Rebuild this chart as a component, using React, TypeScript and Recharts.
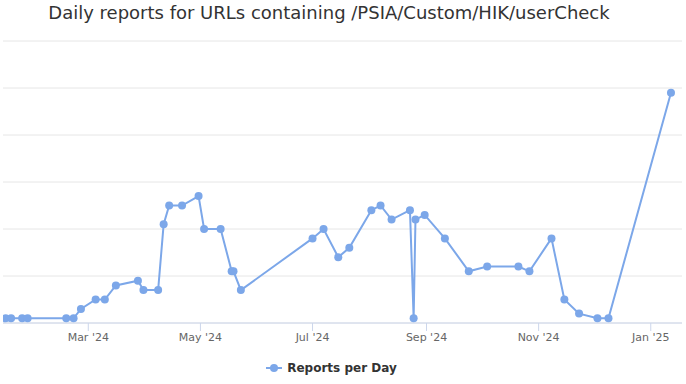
import { CartesianGrid, Legend, Line, LineChart, XAxis, YAxis } from 'recharts';

const reportDates = [
  '2024-01-16', '2024-01-19', '2024-01-25', '2024-01-28', '2024-02-18', '2024-02-22',
  '2024-02-26', '2024-03-05', '2024-03-10', '2024-03-16', '2024-03-28', '2024-03-31',
  '2024-04-08', '2024-04-11', '2024-04-14', '2024-04-21', '2024-04-30', '2024-05-03',
  '2024-05-12', '2024-05-18', '2024-05-19', '2024-05-23', '2024-07-01', '2024-07-07',
  '2024-07-15', '2024-07-21', '2024-08-02', '2024-08-07', '2024-08-13', '2024-08-23',
  '2024-08-25', '2024-08-26', '2024-08-31', '2024-09-11', '2024-09-24', '2024-10-04',
  '2024-10-21', '2024-10-27', '2024-11-08', '2024-11-15', '2024-11-23', '2024-12-03',
  '2024-12-09', '2025-01-12',
];
const reportsPerDay = [
  1, 1, 1, 1, 1, 1, 3, 5, 5, 8, 9, 7, 7, 21, 25, 25, 27, 20, 20, 11, 11, 7,
  18, 20, 14, 16, 24, 25, 22, 24, 1, 22, 23, 18, 11, 12, 12, 11, 18, 5, 2, 1, 1, 49,
];
const tickDates = ['2024-03-01', '2024-05-01', '2024-07-01', '2024-09-01', '2024-11-01', '2025-01-01'];
const tickLabels = ["Mar '24", "May '24", "Jul '24", "Sep '24", "Nov '24", "Jan '25"];
const yTicks = [0, 10, 20, 30, 40, 50, 60];

const DAY = 86400000;
const march1 = Date.parse('2024-03-01');
const xDomain = [march1 - 46.4 * DAY, march1 + 323 * DAY];

const data = reportDates.map((d, i) => ({ t: Date.parse(d), value: reportsPerDay[i] }));
const xTicks = tickDates.map((d) => Date.parse(d));

const color = '#7ca7e9';

function LegendContent() {
  return (
    <div style={{ display: 'flex', justifyContent: 'center', alignItems: 'center', height: 24, paddingRight: 24 }}>
      <svg width={20} height={12} style={{ marginRight: 3 }}>
        <line x1={2} y1={6} x2={18} y2={6} stroke={color} strokeWidth={2} />
        <circle cx={10} cy={6} r={4} fill={color} />
      </svg>
      <span style={{ fontFamily: 'DejaVu Sans', fontSize: 12, fontWeight: 'bold', color: '#333' }}>
        Reports per Day
      </span>
    </div>
  );
}

export default function App() {
  return (
    <div style={{ position: 'relative', width: 686, height: 384, background: '#fff' }}>
      <style>{'body{margin:0}'}</style>
      <div
        style={{
          position: 'absolute',
          top: 2,
          left: 0,
          width: 658,
          textAlign: 'center',
          fontFamily: 'DejaVu Sans',
          fontSize: 18,
          color: '#333',
        }}
      >
        Daily reports for URLs containing /PSIA/Custom/HIK/userCheck
      </div>
      <LineChart width={686} height={384} data={data} margin={{ top: 41, right: 4, bottom: 4, left: 3 }}>
        <CartesianGrid vertical={false} stroke="#e6e6e6" />
        <XAxis
          dataKey="t"
          type="number"
          scale="time"
          domain={xDomain}
          ticks={xTicks}
          tickFormatter={(v: number) => tickLabels[xTicks.indexOf(v)]}
          height={33}
          stroke="#ccd6eb"
          tickSize={8}
          tickMargin={2}
          tick={{ fill: '#666', fontSize: 11, fontFamily: 'DejaVu Sans' }}
          allowDataOverflow
        />
        <YAxis hide domain={[0, 60]} ticks={yTicks} />
        <Legend verticalAlign="bottom" height={24} content={<LegendContent />} />
        <Line
          dataKey="value"
          name="Reports per Day"
          stroke={color}
          strokeWidth={2}
          dot={{ r: 4, fill: color, stroke: color, strokeWidth: 0 }}
          activeDot={false}
          isAnimationActive={false}
        />
      </LineChart>
    </div>
  );
}
